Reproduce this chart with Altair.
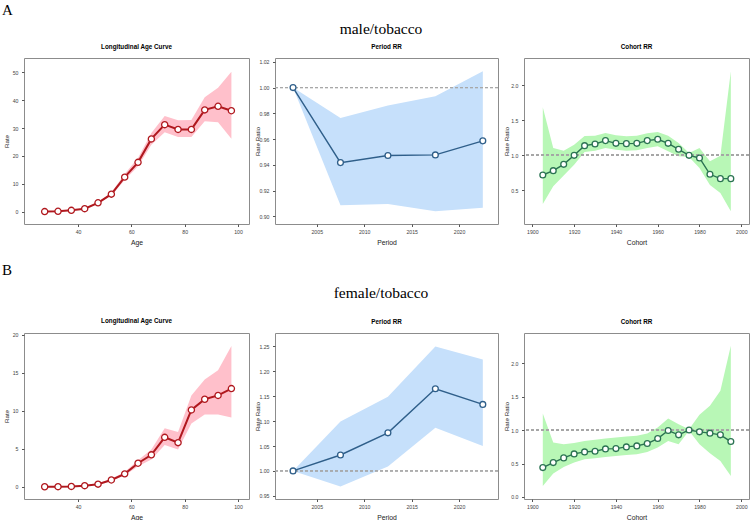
import altair as alt
import pandas as pd

# ---------------- data ----------------
# Age groups (midpoints) for the longitudinal age curves
ages = [27.5, 32.5, 37.5, 42.5, 47.5, 52.5, 57.5, 62.5, 67.5, 72.5, 77.5, 82.5, 87.5, 92.5, 97.5]
male_age_rate = [0.05, 0.15, 0.5, 1.1, 3.2, 6.3, 12.4, 17.7, 26.1, 31.2, 29.5, 29.5, 36.5, 37.8, 36.2]
male_age_lo = [0.0, 0.1, 0.4, 0.95, 2.9, 5.8, 11.4, 16.3, 24.0, 28.5, 26.8, 26.8, 32.4, 32.1, 26.2]
male_age_hi = [0.1, 0.2, 0.6, 1.25, 3.5, 6.9, 13.5, 19.3, 28.2, 34.3, 32.8, 32.9, 41.0, 44.4, 50.2]
female_age_rate = [0.01, 0.02, 0.05, 0.15, 0.35, 0.9, 1.7, 3.1, 4.2, 6.5, 5.8, 10.1, 11.5, 12.0, 12.9]
female_age_lo = [0.0, 0.01, 0.03, 0.12, 0.3, 0.8, 1.5, 2.7, 3.6, 5.5, 4.9, 8.3, 9.5, 9.5, 9.1]
female_age_hi = [0.02, 0.04, 0.08, 0.2, 0.42, 1.05, 1.95, 3.5, 4.9, 7.7, 7.2, 12.0, 14.1, 15.3, 18.5]

# Period rate ratios
periods = [2002.5, 2007.5, 2012.5, 2017.5, 2022.5]
male_period_rr = [1.0, 0.9417, 0.9472, 0.9477, 0.9586]
male_period_lo = [1.0, 0.9086, 0.9096, 0.9039, 0.9067]
male_period_hi = [1.0, 0.9764, 0.9860, 0.9933, 1.0127]
female_period_rr = [1.0, 1.032, 1.0765, 1.165, 1.1336]
female_period_lo = [1.0, 0.9685, 1.0087, 1.0866, 1.050]
female_period_hi = [1.0, 1.0993, 1.149, 1.2497, 1.224]

# Cohort rate ratios
cohorts = [1905, 1910, 1915, 1920, 1925, 1930, 1935, 1940, 1945, 1950,
           1955, 1960, 1965, 1970, 1975, 1980, 1985, 1990, 1995]
male_cohort_rr = [0.719, 0.781, 0.871, 1.0, 1.138, 1.162, 1.21, 1.171, 1.167, 1.171,
                  1.21, 1.229, 1.171, 1.086, 1.0, 0.962, 0.729, 0.667, 0.667]
male_cohort_lo = [0.305, 0.557, 0.71, 0.867, 1.048, 1.067, 1.105, 1.081, 1.067, 1.071,
                  1.105, 1.129, 1.057, 0.986, 0.976, 0.819, 0.576, 0.462, 0.2]
male_cohort_hi = [1.686, 1.105, 1.067, 1.152, 1.276, 1.28, 1.319, 1.286, 1.271, 1.28,
                  1.314, 1.333, 1.28, 1.176, 1.033, 1.105, 0.914, 0.995, 2.2]
female_cohort_rr = [0.439, 0.514, 0.584, 0.643, 0.673, 0.683, 0.718, 0.723, 0.748, 0.763,
                    0.798, 0.873, 0.993, 0.928, 1.0, 0.973, 0.953, 0.928, 0.828]
female_cohort_lo = [0.165, 0.349, 0.449, 0.514, 0.564, 0.579, 0.598, 0.613, 0.628, 0.638,
                    0.673, 0.738, 0.838, 0.788, 0.99, 0.788, 0.653, 0.539, 0.314]
female_cohort_hi = [1.247, 0.813, 0.788, 0.808, 0.838, 0.853, 0.873, 0.888, 0.903, 0.913,
                    0.948, 1.037, 1.172, 1.087, 1.01, 1.227, 1.362, 1.586, 2.259]

# ---------------- style ----------------
SANS = "Liberation Sans"
SERIF = "Liberation Serif"
AGE_BAND, AGE_LINE = "#ffc0cb", "#b0181e"
PER_BAND, PER_LINE = "#c6e0fb", "#2f5f8a"
COH_BAND, COH_LINE = "#b8f7b6", "#2b7352"
H = 166


def panel(x, est, lo, hi, xname, xdom, xticks, ydom, yticks, yfmt, ytitle,
          title, band_col, line_col, width, ref=False, lw=1.5, psize=34):
    df = pd.DataFrame({xname: x, "est": est, "lo": lo, "hi": hi})
    xscale = alt.Scale(domain=xdom, nice=False, zero=False)
    xaxis = alt.Axis(values=xticks, format="d", title=xname, labelOverlap=False,
                     labelPadding=2.5, titleFontSize=6.8,
                     titleX=width / 2, titleY=18,
                     titleBaseline="middle", titleAlign="center")
    yscale = alt.Scale(domain=ydom, nice=False, zero=False)
    yaxis = alt.Axis(values=yticks, format=yfmt, title=ytitle, labelOverlap=False,
                     labelPadding=3.5, titleFontSize=6.2,
                     titleX=-18, titleY=H / 2, titleAngle=270,
                     titleBaseline="middle", titleAlign="center")
    # every layer carries the same axis definition so the merged axis keeps it
    xe = alt.X(f"{xname}:Q", scale=xscale, axis=xaxis)
    base = alt.Chart(df)
    band = base.mark_area(color=band_col, opacity=1).encode(
        x=xe, y=alt.Y("lo:Q", scale=yscale, axis=yaxis), y2="hi:Q")
    layers = [band]
    if ref:
        layers.append(base.mark_rule(color="#a8a8a8", strokeDash=[3, 2],
                                     strokeWidth=0.7).encode(
            y=alt.datum(1.0, scale=yscale, axis=yaxis)))
    ye = alt.Y("est:Q", scale=yscale, axis=yaxis)
    layers.append(base.mark_line(color=line_col, strokeWidth=lw).encode(x=xe, y=ye))
    layers.append(base.mark_point(shape="circle", filled=True, fill="white",
                                  stroke=line_col, strokeWidth=1.3, size=psize,
                                  opacity=1).encode(x=xe, y=ye))
    return alt.layer(*layers).properties(
        width=width, height=H,
        title=alt.TitleParams(title, fontSize=6.3, fontWeight="bold", font=SANS,
                              color="black", offset=8, anchor="middle"))


def row(sex):
    if sex == "male":
        a = panel(ages, male_age_rate, male_age_lo, male_age_hi, "Age",
                  [19.75, 104.1], [40, 60, 80, 100], [-4.4, 55.1],
                  [0, 10, 20, 30, 40, 50], "d", "Rate",
                  "Longitudinal Age Curve", AGE_BAND, AGE_LINE, 225, lw=2, psize=38)
        p = panel(periods, male_period_rr, male_period_lo, male_period_hi, "Period",
                  [2000.6, 2024.1], [2005, 2010, 2015, 2020], [0.894, 1.023],
                  [0.90, 0.92, 0.94, 0.96, 0.98, 1.00, 1.02], ".2f", "Rate Ratio",
                  "Period RR", PER_BAND, PER_LINE, 223, ref=True, lw=1.4)
        c = panel(cohorts, male_cohort_rr, male_cohort_lo, male_cohort_hi, "Cohort",
                  [1896, 2003.7], [1900, 1920, 1940, 1960, 1980, 2000], [0.019, 2.39],
                  [0.5, 1.0, 1.5, 2.0], ".1f", "Rate Ratio",
                  "Cohort RR", COH_BAND, COH_LINE, 225, ref=True, lw=1.4)
    else:
        a = panel(ages, female_age_rate, female_age_lo, female_age_hi, "Age",
                  [19.75, 104.1], [40, 60, 80, 100], [-1.6, 20.2],
                  [0, 5, 10, 15, 20], "d", "Rate",
                  "Longitudinal Age Curve", AGE_BAND, AGE_LINE, 225, lw=2, psize=38)
        p = panel(periods, female_period_rr, female_period_lo, female_period_hi, "Period",
                  [2000.6, 2024.1], [2005, 2010, 2015, 2020], [0.9436, 1.277],
                  [0.95, 1.00, 1.05, 1.10, 1.15, 1.20, 1.25], ".2f", "Rate Ratio",
                  "Period RR", PER_BAND, PER_LINE, 223, ref=True, lw=1.4)
        c = panel(cohorts, female_cohort_rr, female_cohort_lo, female_cohort_hi, "Cohort",
                  [1896, 2003.7], [1900, 1920, 1940, 1960, 1980, 2000], [-0.03, 2.449],
                  [0.0, 0.5, 1.0, 1.5, 2.0], ".1f", "Rate Ratio",
                  "Cohort RR", COH_BAND, COH_LINE, 225, ref=True, lw=1.4)
    return alt.hconcat(a, p, c, spacing=26, bounds="flush")


def header(letter, label, h, ly, hy):
    # panel label at the far left, row heading centred over the middle panel
    tag = alt.Chart(pd.DataFrame({"t": [letter]})).mark_text(
        align="left", baseline="middle", font=SERIF, fontSize=15, color="black"
    ).encode(text="t:N", x=alt.value(-22), y=alt.value(ly))
    head = alt.Chart(pd.DataFrame({"t": [label]})).mark_text(
        align="center", baseline="middle", font=SERIF, fontSize=15.5, color="black"
    ).encode(text="t:N", x=alt.value(357), y=alt.value(hy))
    return alt.layer(tag, head).properties(
        width=725, height=h, view=alt.ViewBackground(stroke="transparent"))


chart = alt.vconcat(
    header("A", "male/tobacco", 43.7, 12, 31),
    row("male"),
    header("B", "female/tobacco", 68.5, 21.5, 44.5),
    row("female"),
    spacing=0,
).properties(
    padding={"left": 1, "top": -3, "right": 0, "bottom": 0},
    background="white",
).configure_view(
    stroke="#8c8c8c", strokeWidth=1
).configure_axis(
    grid=False, domain=False, tickColor="#555555", tickSize=2.5,
    labelFont=SANS, labelFontSize=5.2, labelColor="#444444",
    labelOverlap=False, labelFlush=False,
    titleFont=SANS, titleFontWeight="normal", titleColor="#222222",
)

chart.save("out.html", embed_options={"renderer": "svg", "actions": False})
